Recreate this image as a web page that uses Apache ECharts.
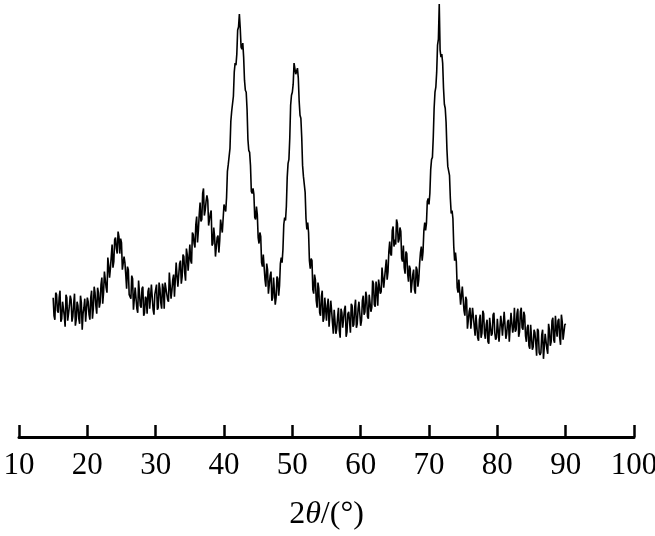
<!DOCTYPE html>
<html>
<head>
<meta charset="utf-8">
<script src="https://cdn.jsdelivr.net/npm/echarts@6/dist/echarts.min.js"></script>
<style>
html,body{margin:0;padding:0;background:#fff;}
#chart{width:655px;height:536px;}
</style>
</head>
<body>
<div id="chart"></div>
<script>
// 2θ sampling of the scan (degrees): first angle and step
var angleStart = 15;
var angleStep = 0.25;
// Intensity (arbitrary units) at 15.00°, 15.25°, ... 90.00°
var intensity = [
139,117,142,124,146,118,134,110,139,123,141,115,133,111,135,118,141,107,129,115,
139,122,139,118,150,131,149,129,152,133,165,149,179,159,180,169,197,188,205,183,
194,168,174,148,167,141,161,127,149,128,156,131,148,121,140,123,149,127,152,122,
143,127,154,134,153,128,153,137,164,138,157,140,174,150,173,153,182,164,188,166,
192,173,202,189,220,206,234,217,248,226,241,211,223,191,209,180,199,184,217,204,
232,225,265,272,315,326,364,371,406,422,389,393,356,344,297,284,245,248,219,230,
199,204,174,182,157,173,143,161,136,159,132,160,141,173,174,212,216,259,277,331,
344,373,362,368,335,318,271,259,218,214,176,178,147,162,136,154,124,140,115,139,
116,138,109,126,103,128,108,129,99,124,109,131,105,125,104,131,112,137,113,135,
111,136,122,145,120,142,125,156,132,155,131,157,145,170,148,177,165,195,181,210,
197,217,194,209,178,191,163,183,155,168,143,167,143,167,157,184,176,206,206,235,
232,267,279,328,349,391,432,379,373,332,314,270,261,223,218,176,175,144,158,131,
150,121,137,107,129,108,129,101,121,96,122,104,123,98,117,93,120,103,124,97,
118,95,121,101,125,98,115,95,124,104,129,107,128,105,129,107,121,95,112,88,
112,90,104,81,106,82,102,78,103,88,113,91,116,97,121,100,118,92,115,98,
113
];
// Intensity read at the half steps 15.125°, 15.375°, ... 89.875°
var intensityMid = [
121,144,126,139,115,135,121,142,116,131,137,120,143,117,131,113,134,123,138,116,
135,117,146,128,144,123,144,134,159,144,166,144,171,168,192,175,199,183,200,198,
167,180,162,170,142,138,158,138,149,124,144,129,150,124,138,145,128,152,127,142,
152,129,148,128,148,154,153,135,164,146,162,141,161,151,176,160,180,156,182,178,
176,204,193,212,194,222,215,243,221,235,236,211,226,193,200,179,201,196,218,204,
232,239,272,288,325,340,373,382,409,408,387,379,346,327,286,271,243,242,217,222,
193,200,170,182,150,167,143,165,139,160,139,158,151,179,187,219,230,273,298,341,
352,373,362,358,321,299,260,244,207,204,168,176,143,157,129,148,121,146,119,138,
131,110,136,114,127,103,120,106,128,109,127,100,123,115,133,110,129,109,128,135,
116,141,125,140,118,141,129,153,130,147,157,143,169,149,168,157,185,183,206,190,
192,213,197,205,175,169,185,163,171,144,162,147,170,150,173,190,185,214,213,238,
243,277,299,344,364,397,386,382,348,328,287,271,238,226,190,184,149,157,132,150,
126,140,108,125,108,129,110,122,99,117,99,126,103,112,95,119,101,122,104,99,
119,96,113,100,124,103,117,96,123,110,105,123,100,125,109,125,101,109,91,112,
87,107,94,108,84,84,107,90,104,83,107,95,119,94,109,116,99,122,97,112
];
var xTicks = [10,20,30,40,50,60,70,80,90,100];

var points = [];
intensity.forEach(function(v, i){
  points.push([angleStart + i*angleStep, v]);
  if (i < intensityMid.length) points.push([angleStart + (i + 0.5)*angleStep, intensityMid[i]]);
});

var chart = echarts.init(document.getElementById('chart'), null, {renderer:'canvas'});
chart.setOption({
  backgroundColor:'#ffffff',
  animation:false,
  grid:{left:19, right:21, top:0, bottom:99, containLabel:false, outerBoundsMode:'none'},
  xAxis:{
    type:'value', min:xTicks[0], max:xTicks[xTicks.length-1], interval:10,
    axisLine:{show:true, onZero:false, lineStyle:{color:'#000', width:3}},
    axisTick:{show:true, inside:true, length:12, lineStyle:{color:'#000', width:2.5}},
    splitLine:{show:false},
    axisLabel:{color:'#000', fontFamily:'Liberation Serif', fontSize:31, margin:13,
      formatter:function(v){ return String(v); }},
    name:'{a|2}{b|θ}{a|/(°)}',
    nameLocation:'middle', nameGap:62,
    nameTextStyle:{
      color:'#000',
      rich:{
        a:{fontFamily:'Liberation Serif', fontSize:32, color:'#000'},
        b:{fontFamily:'Liberation Serif', fontSize:32, fontStyle:'italic', color:'#000'}
      }
    }
  },
  yAxis:{type:'value', min:0, max:436, show:false},
  series:[{
    type:'line', data:points, showSymbol:false, symbol:'none',
    lineStyle:{color:'#000', width:1.6}, silent:true
  }]
});
</script>
</body>
</html>
